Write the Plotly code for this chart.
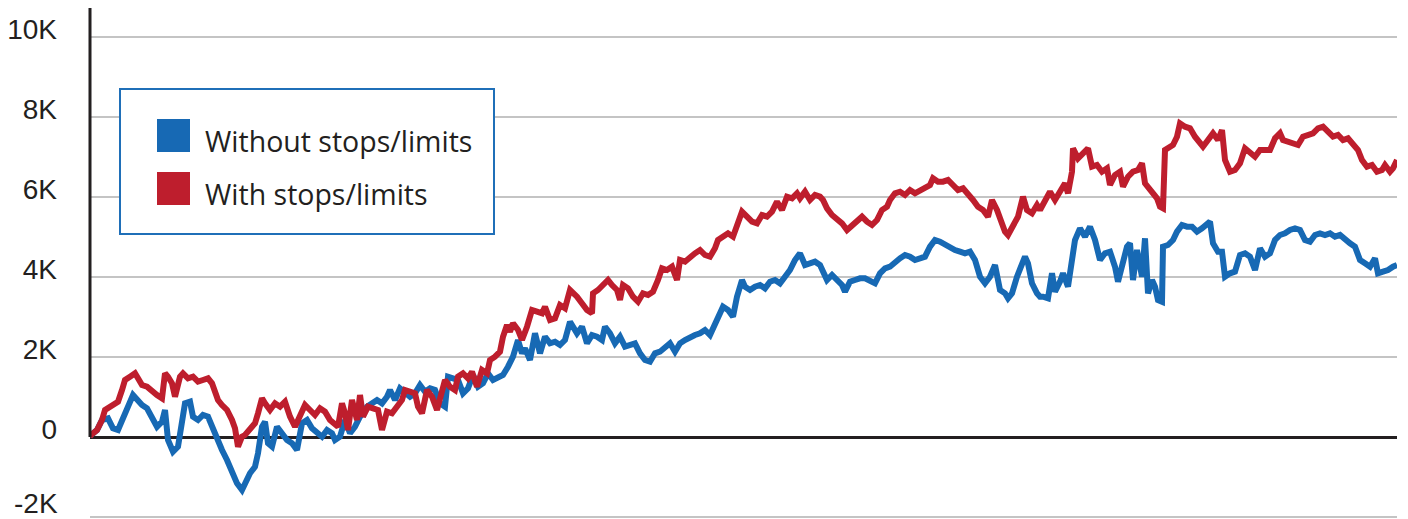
import plotly.graph_objects as go

# Trading-day index and cumulative P&L ($)
blue_day = [0,1,7,12,18,23,28,33,38,43,47,52,57,62,67,72,75,78,83,88,92,95,100,103,108,113,118,122,127,132,137,142,147,152,155,160,165,168,172,175,178,182,187,192,197,202,207,212,217,222,227,232,237,242,245,250,255,260,265,270,277,282,287,292,297,300,305,310,315,320,325,330,335,340,345,350,355,358,363,368,373,378,383,388,393,398,403,408,413,418,423,428,432,435,440,445,450,455,460,465,470,475,480,487,492,497,502,507,512,515,520,525,530,535,540,545,550,555,560,565,570,575,580,585,590,595,600,605,610,615,620,625,630,633,638,643,647,652,655,660,665,670,675,680,685,690,695,700,705,710,715,720,725,730,733,737,742,747,752,755,760,765,770,775,780,785,790,795,800,805,810,815,820,825,830,835,840,845,850,855,860,865,870,875,880,885,890,895,900,905,910,915,918,922,927,932,935,938,942,947,950,953,958,962,965,970,973,978,982,985,990,995,1000,1005,1010,1015,1020,1025,1028,1033,1037,1040,1043,1047,1052,1055,1058,1062,1065,1068,1072,1073,1078,1083,1087,1092,1097,1102,1107,1112,1117,1120,1123,1128,1132,1135,1140,1145,1150,1155,1160,1165,1170,1175,1180,1185,1190,1195,1200,1205,1210,1215,1220,1225,1230,1235,1240,1245,1250,1255,1260,1265,1270,1275,1280,1285,1288,1293,1298,1303,1307]
blue_pnl = [0,50,175,425,467,217,175,425,758,1050,925,800,717,467,258,383,675,-75,-367,-242,425,842,883,508,425,550,508,258,-75,-325,-575,-908,-1158,-1325,-1158,-908,-742,-408,258,383,-158,-242,258,92,-75,-158,-325,342,425,217,92,8,175,92,-75,8,425,92,258,508,758,842,925,842,1008,1175,925,1217,1092,1008,1092,1300,1133,1217,1175,842,758,1508,1467,1425,1092,1217,1550,1258,1342,1592,1425,1508,1550,1758,2008,2425,2092,2217,1925,2592,2092,2508,2342,2383,2300,2425,2883,2592,2758,2342,2550,2508,2425,2758,2592,2342,2508,2258,2300,2342,2092,1925,1883,2092,2133,2258,2342,2133,2342,2425,2508,2550,2592,2675,2550,2842,3092,3258,3175,3008,3508,3925,3758,3675,3758,3800,3717,3883,3925,3842,4008,4175,4425,4592,4300,4342,4383,4300,4092,3925,4050,3925,3800,3633,3883,3925,3967,3967,3883,3842,4092,4217,4258,4383,4467,4550,4508,4425,4467,4508,4758,4925,4883,4800,4758,4675,4633,4592,4633,4425,4008,3842,4008,4300,3675,3592,3467,3592,4008,4300,4508,4342,3842,3592,3508,3508,3467,4092,3633,3883,4092,3758,4425,4925,5217,5008,5258,4925,4425,4592,4633,4258,3883,4425,4758,4842,3925,4675,4008,4967,3592,3925,3758,3425,3383,4758,4800,4925,5133,5300,5258,5258,5133,5217,5342,5383,4842,4633,4633,4008,4092,4133,4550,4592,4508,4175,4717,4508,4592,4925,5050,5092,5175,5217,5175,4925,4883,5050,5092,5050,5092,5008,5050,4925,4842,4758,4425,4342,4258,4467,4092,4133,4175,4258,4300]

red_day = [0,1,7,12,15,20,25,28,32,35,40,45,48,52,57,62,67,72,75,78,82,85,90,93,98,103,108,113,118,122,125,128,132,137,142,145,148,152,155,160,165,168,172,175,180,185,190,195,200,205,210,215,220,225,230,235,240,245,248,252,255,258,262,267,270,273,278,283,288,292,297,302,307,312,315,320,325,328,332,337,342,347,350,355,360,365,368,373,378,382,387,392,397,400,405,410,413,417,420,423,428,432,437,442,447,452,455,460,465,470,475,480,487,492,497,502,503,508,513,518,522,527,530,533,538,543,548,553,558,563,568,572,577,582,587,590,595,600,605,610,615,620,625,628,633,638,643,647,652,657,662,667,672,677,682,687,692,697,702,707,710,715,720,725,730,733,737,742,747,752,757,762,767,772,777,782,787,792,797,800,805,810,815,820,825,830,835,840,843,848,853,858,863,868,873,878,883,888,893,898,902,907,912,915,918,923,928,933,937,942,947,950,955,960,965,970,975,978,982,983,988,993,998,1002,1007,1012,1017,1020,1025,1030,1033,1038,1043,1048,1052,1055,1060,1063,1067,1070,1073,1075,1078,1083,1087,1090,1095,1100,1105,1110,1113,1118,1123,1128,1132,1135,1140,1145,1150,1155,1160,1165,1170,1175,1180,1185,1190,1193,1198,1203,1208,1213,1218,1223,1228,1233,1238,1243,1248,1253,1258,1263,1268,1272,1277,1282,1287,1292,1295,1300,1303,1307]
red_pnl = [0,50,175,425,675,758,800,883,1175,1425,1508,1592,1467,1300,1258,1133,1050,967,1592,1508,1342,1008,1508,1592,1467,1508,1383,1425,1467,1342,1092,925,800,675,425,217,-242,8,50,175,342,592,967,842,675,842,758,883,508,258,508,800,675,550,717,633,425,300,258,842,592,175,925,425,1050,508,758,717,675,175,633,592,758,925,1175,1133,1092,758,592,1175,1008,675,925,1425,1258,1175,1508,1592,1467,1633,1258,1675,1592,1925,2008,2133,2508,2800,2633,2842,2675,2425,2758,3175,3133,3092,3258,2925,2967,3300,3217,3675,3508,3342,3175,3092,3592,3675,3800,3925,3800,3675,3425,3800,3717,3508,3383,3592,3550,3633,3925,4217,4175,4258,3925,4425,4383,4508,4592,4675,4550,4508,4717,4925,5008,5092,5008,5258,5633,5508,5383,5342,5550,5508,5633,5883,5675,6008,5967,6092,5967,6133,5925,6050,6008,5925,5717,5550,5467,5342,5175,5300,5425,5508,5383,5300,5425,5675,5758,5925,6092,6133,6050,6175,6092,6175,6258,6300,6467,6383,6383,6425,6300,6175,6217,6092,5925,5758,5675,5508,5925,5675,5342,5133,5050,5258,5508,6008,5675,5592,5800,5675,5925,6133,5925,6175,6342,6092,6633,7217,6967,7092,7217,6758,6800,6633,6717,6300,6550,6633,6258,6508,6633,6675,6842,6342,6175,6092,5967,5758,5717,7175,7217,7300,7508,7842,7758,7717,7508,7342,7258,7425,7592,7425,7675,6925,6633,6675,6842,7217,7133,7008,7175,7175,7175,7467,7592,7425,7383,7342,7300,7508,7550,7592,7717,7758,7633,7508,7550,7425,7467,7342,7175,6925,6758,6800,6633,6675,6800,6633,6717,6925]

series_names = ["Without stops/limits", "With stops/limits"]
tick_vals = [0, 2000, 4000, 6000, 8000, 10000]
tick_text = ["0", "2K", "4K", "6K", "8K", "10K"]
low_tick_val = -2000
low_tick_text = "-2K"

BLUE = "#1769b4"
RED = "#be1e2d"
INK = "#231f20"
TICK_FONT = dict(family="Liberation Sans, Arial", size=28, color=INK)
# The page body adds an 8px offset, so the figure is sized to fill the rest of the window
OFF = 8
W, H = 1408 - OFF, 519 - OFF
ML, MR, MT, MB = 82, 11, 0, 0
PW, PH = W - ML - MR, H - MT - MB

def px_x(px):
    return (px - OFF - ML) / PW

def px_y(py):
    return (H - MB - (py - OFF)) / PH

fig = go.Figure()
fig.add_trace(go.Scatter(x=blue_day, y=blue_pnl, mode="lines", name=series_names[0],
                         line=dict(color=BLUE, width=6), showlegend=False))
fig.add_trace(go.Scatter(x=red_day, y=red_pnl, mode="lines", name=series_names[1],
                         line=dict(color=RED, width=6), showlegend=False))

Y_TOP = 10725
shapes = [
    # vertical axis line (from 0 upward)
    dict(type="line", xref="paper", yref="y", x0=0, x1=0, y0=0, y1=Y_TOP,
         line=dict(color=INK, width=3), layer="above"),
    # legend box
    dict(type="rect", xref="paper", yref="paper", x0=px_x(120), x1=px_x(494),
         y0=px_y(234), y1=px_y(89), line=dict(color="#1f6fb8", width=2),
         fillcolor="white", layer="above"),
    dict(type="rect", xref="paper", yref="paper", x0=px_x(157), x1=px_x(190),
         y0=px_y(152), y1=px_y(119), line=dict(width=0), fillcolor=BLUE, layer="above"),
    dict(type="rect", xref="paper", yref="paper", x0=px_x(157), x1=px_x(190),
         y0=px_y(205), y1=px_y(172), line=dict(width=0), fillcolor=RED, layer="above"),
]
annotations = [
    dict(xref="paper", yref="paper", x=px_x(203), y=px_y(141), text=series_names[0],
         showarrow=False, xanchor="left", yanchor="middle",
         font=dict(family="Open Sans", size=28.5, color=INK)),
    dict(xref="paper", yref="paper", x=px_x(203), y=px_y(194), text=series_names[1],
         showarrow=False, xanchor="left", yanchor="middle",
         font=dict(family="Open Sans", size=28.5, color=INK)),
    # lowest tick label, lifted so it stays inside the window
    dict(xref="paper", yref="y", x=px_x(59), y=low_tick_val, yshift=14,
         text=low_tick_text, showarrow=False, xanchor="right", yanchor="middle",
         borderpad=0, font=TICK_FONT),
]

fig.update_layout(
    width=W, height=H,
    margin=dict(l=ML, r=MR, t=MT, b=MB, pad=0, autoexpand=False),
    paper_bgcolor="white", plot_bgcolor="white",
    shapes=shapes, annotations=annotations,
    xaxis=dict(range=[0, PW], showgrid=False, zeroline=False, showline=False,
               showticklabels=False, ticks="", automargin=False),
    yaxis=dict(range=[-2050, Y_TOP], tickvals=tick_vals + [low_tick_val],
               ticktext=tick_text + [""],
               showgrid=True, gridcolor="#c4c4c4", gridwidth=2,
               zeroline=True, zerolinecolor=INK, zerolinewidth=3,
               showline=False, ticks="", ticklabelstandoff=32, ticklabelshift=-8,
               ticklabeloverflow="allow", automargin=False,
               tickfont=TICK_FONT),
)

fig.write_html("out.html")
